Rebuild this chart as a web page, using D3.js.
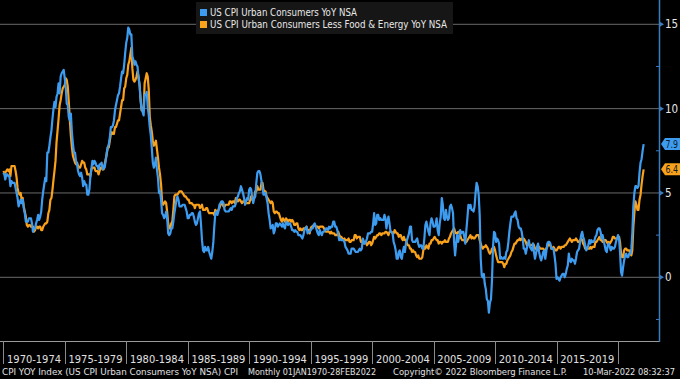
<!DOCTYPE html>
<html><head><meta charset="utf-8">
<script src="https://cdn.jsdelivr.net/npm/d3@7"></script>
<style>
html,body{margin:0;padding:0;background:#000;}
svg{display:block;}
text{font-family:"Liberation Sans Narrow","DejaVu Sans Condensed","Arial Narrow",sans-serif;}
</style></head>
<body>
<svg id="chart" width="680" height="379"></svg>
<script>
// ---- DATA (monthly, Jan 1970 .. Feb 2022) ----
const startYear = 1970;
const seriesNames = ["US CPI Urban Consumers YoY NSA", "US CPI Urban Consumers Less Food & Energy YoY NSA"];
const cpiYoY = [
6.2,6.1,5.8,6.1,6.1,6.0,6.0,5.4,5.7,5.6,5.6,5.6,
5.3,5.0,4.7,4.2,4.4,4.6,4.4,4.6,4.1,3.8,3.3,3.3,
3.3,3.5,3.5,3.5,3.2,2.7,2.9,2.9,3.2,3.4,3.7,3.4,
3.6,3.9,4.6,5.1,5.5,5.9,5.7,7.4,7.4,7.8,8.3,8.7,
9.4,10.0,10.4,10.1,10.7,10.9,11.5,10.9,11.9,12.1,12.2,12.3,
11.8,11.2,10.3,10.2,9.5,9.3,9.7,8.6,7.9,7.4,7.4,6.9,
6.7,6.3,6.1,6.0,6.2,5.9,5.4,5.7,5.5,5.5,4.9,4.9,
5.2,6.0,6.4,6.9,6.7,6.9,6.8,6.6,6.6,6.4,6.7,6.7,
6.8,6.4,6.6,6.5,6.9,7.4,7.7,7.9,8.3,8.9,8.9,9.0,
9.3,9.9,10.2,10.5,10.8,10.9,11.3,11.8,12.2,12.1,12.6,13.3,
13.9,14.2,14.8,14.7,14.4,14.4,13.1,12.9,12.6,12.8,12.6,12.5,
11.8,11.4,10.5,10.0,9.8,9.6,10.8,10.8,11.0,10.1,9.6,8.9,
8.4,7.6,6.8,6.5,6.7,7.1,6.4,5.9,5.0,5.1,4.6,3.8,
3.7,3.5,3.6,3.9,3.5,2.6,2.5,2.6,2.9,2.9,3.3,3.8,
4.2,4.6,4.8,4.6,4.2,4.2,4.2,4.3,4.3,4.3,4.1,3.9,
3.5,3.5,3.7,3.7,3.8,3.8,3.6,3.3,3.1,3.2,3.5,3.8,
3.9,3.1,2.2,1.6,1.5,1.8,1.6,1.6,1.8,1.5,1.3,1.1,
1.5,2.1,3.0,3.8,3.9,3.7,3.9,4.3,4.4,4.5,4.5,4.4,
4.0,3.9,3.9,3.9,3.9,4.0,4.1,4.0,4.2,4.2,4.2,4.4,
4.7,4.8,5.0,5.1,5.4,5.2,5.0,4.7,4.3,4.5,4.7,4.6,
5.2,5.3,5.2,4.7,4.4,4.7,4.8,5.6,6.2,6.3,6.3,6.1,
5.7,5.3,4.9,4.9,5.0,4.7,4.4,3.8,3.4,2.9,3.0,3.1,
2.6,2.8,3.2,3.2,3.0,3.1,3.2,3.1,3.0,3.2,3.0,2.9,
3.3,3.2,3.1,3.2,3.2,3.0,2.8,2.8,2.7,2.8,2.7,2.7,
2.5,2.5,2.5,2.4,2.3,2.5,2.8,2.9,3.0,2.6,2.7,2.7,
2.8,2.9,2.9,3.1,3.2,3.0,2.8,2.6,2.5,2.8,2.6,2.5,
2.7,2.7,2.8,2.9,2.9,2.8,3.0,2.9,3.0,3.0,3.3,3.3,
3.0,3.0,2.8,2.5,2.2,2.3,2.2,2.2,2.2,2.1,1.8,1.7,
1.6,1.4,1.4,1.4,1.7,1.7,1.7,1.6,1.5,1.5,1.5,1.6,
1.7,1.6,1.7,2.3,2.1,2.0,2.1,2.3,2.6,2.6,2.6,2.7,
2.7,3.2,3.8,3.1,3.2,3.7,3.7,3.4,3.5,3.4,3.4,3.4,
3.7,3.5,2.9,3.3,3.6,3.2,2.7,2.7,2.6,2.1,1.9,1.6,
1.1,1.1,1.5,1.6,1.2,1.1,1.5,1.8,1.5,2.0,2.2,2.4,
2.6,3.0,3.0,2.2,2.1,2.1,2.1,2.2,2.3,2.0,1.8,1.9,
1.9,1.7,1.7,2.3,3.1,3.3,3.0,2.7,2.5,3.2,3.5,3.3,
3.0,3.0,3.1,3.5,2.8,2.5,3.2,3.6,4.7,4.3,3.5,3.4,
4.0,3.6,3.4,3.5,4.2,4.3,4.1,3.8,2.1,1.3,2.0,2.5,
2.1,2.4,2.8,2.6,2.7,2.7,2.4,2.0,2.8,3.5,4.3,4.1,
4.3,4.0,4.0,3.9,4.2,5.0,5.6,5.4,4.9,3.7,1.1,0.1,
0.0,0.2,-0.4,-0.7,-1.3,-1.4,-2.1,-1.5,-1.3,-0.2,1.8,2.7,
2.6,2.1,2.3,2.2,2.0,1.1,1.2,1.1,1.1,1.2,1.1,1.5,
1.6,2.1,2.7,3.2,3.6,3.6,3.6,3.8,3.9,3.5,3.4,3.0,
2.9,2.9,2.7,2.3,1.7,1.7,1.4,1.7,2.0,2.2,1.8,1.7,
1.6,2.0,1.5,1.1,1.4,1.8,2.0,1.5,1.2,1.0,1.2,1.5,
1.6,1.1,1.5,2.0,2.1,2.1,2.0,1.7,1.7,1.7,1.3,0.8,
-0.1,0.0,-0.1,-0.2,0.0,0.1,0.2,0.2,0.0,0.2,0.5,0.7,
1.4,1.0,0.9,1.1,1.0,1.0,0.8,1.1,1.5,1.6,1.7,2.1,
2.5,2.7,2.4,2.2,1.9,1.6,1.7,1.9,2.2,2.0,2.2,2.1,
2.1,2.2,2.4,2.5,2.8,2.9,2.9,2.7,2.3,2.5,2.2,1.9,
1.6,1.5,1.9,2.0,1.8,1.6,1.8,1.7,1.7,1.8,2.1,2.3,
2.5,2.3,1.5,0.3,0.1,0.6,1.0,1.3,1.4,1.2,1.2,1.4,
1.4,1.7,2.6,4.2,5.0,5.4,5.4,5.3,5.4,6.2,6.8,7.0,
7.5,7.9
];
const coreYoY = [
6.3,6.2,6.2,6.3,6.4,6.3,6.4,6.0,6.6,6.6,6.6,6.6,
6.3,5.9,5.3,5.0,4.9,5.0,4.6,4.7,4.2,3.9,3.6,3.1,
3.0,3.1,3.1,3.0,3.0,3.0,2.7,2.8,3.0,3.0,2.9,3.0,
3.0,2.8,2.8,3.0,3.1,3.2,3.2,3.3,3.8,4.0,4.6,4.7,
5.2,5.8,6.3,6.9,8.0,8.7,9.4,10.2,10.5,10.9,11.2,11.3,
11.4,11.8,11.7,11.3,10.4,9.3,8.4,7.7,7.2,7.0,6.8,6.7,
6.8,6.6,6.5,6.5,6.7,6.9,6.8,6.8,6.5,6.4,6.1,6.1,
6.1,6.0,6.4,6.5,6.5,6.5,6.3,6.3,6.3,6.1,6.3,6.5,
6.5,6.4,6.4,6.7,7.0,7.3,7.7,7.7,8.1,8.5,8.6,8.5,
8.5,8.9,8.9,9.1,9.3,9.3,9.7,10.1,10.5,10.5,11.2,11.3,
11.8,12.0,12.6,12.8,13.2,13.6,12.4,11.7,11.6,11.7,11.9,12.2,
11.9,11.4,10.6,9.9,10.0,9.9,11.5,11.8,12.1,11.9,11.1,9.5,
9.0,8.6,8.1,7.8,7.9,8.1,7.6,7.1,6.5,6.1,5.5,4.5,
4.3,4.4,4.5,4.4,3.9,3.2,2.9,2.9,3.2,3.3,4.0,4.8,
4.9,4.9,4.9,5.0,5.1,5.1,5.1,5.0,4.9,4.8,4.8,4.7,
4.6,4.6,4.4,4.4,4.4,4.3,4.3,4.1,4.3,4.3,4.3,4.3,
4.1,4.2,4.3,4.0,4.0,4.0,4.1,4.1,3.9,3.8,3.8,3.8,
3.8,3.8,3.7,4.0,3.9,3.9,4.0,4.1,4.3,4.4,4.3,4.2,
4.2,4.3,4.3,4.3,4.3,4.5,4.5,4.4,4.5,4.5,4.4,4.7,
4.6,4.5,4.6,4.6,4.5,4.4,4.5,4.5,4.4,4.4,4.4,4.4,
4.4,4.6,4.8,4.6,4.7,4.7,5.1,5.1,5.4,5.2,5.2,5.2,
5.6,5.6,5.2,5.1,5.1,4.8,4.7,4.6,4.5,4.4,4.5,4.4,
3.9,3.8,3.9,3.9,3.8,3.8,3.6,3.4,3.3,3.5,3.4,3.3,
3.5,3.4,3.3,3.4,3.4,3.3,3.4,3.3,3.1,3.1,3.2,3.2,
2.9,2.8,2.9,2.8,2.8,2.9,2.9,2.9,3.0,2.8,2.8,2.6,
2.9,3.0,3.0,3.1,3.1,3.0,3.0,3.0,2.9,3.0,3.0,3.0,
3.0,2.9,2.8,2.7,2.7,2.7,2.7,2.6,2.7,2.6,2.6,2.6,
2.5,2.5,2.5,2.7,2.5,2.4,2.4,2.3,2.2,2.3,2.2,2.2,
2.2,2.3,2.1,2.1,2.2,2.2,2.2,2.5,2.5,2.3,2.4,2.4,
2.4,2.1,2.1,2.2,2.0,2.1,2.1,1.9,2.0,2.1,2.1,1.9,
2.0,2.2,2.4,2.3,2.4,2.5,2.5,2.6,2.6,2.5,2.6,2.6,
2.6,2.7,2.7,2.6,2.5,2.7,2.7,2.7,2.6,2.6,2.8,2.7,
2.6,2.6,2.4,2.5,2.5,2.3,2.2,2.4,2.2,2.2,2.0,1.9,
1.9,1.7,1.7,1.5,1.6,1.5,1.5,1.3,1.2,1.3,1.1,1.1,
1.1,1.2,1.6,1.8,1.7,1.9,1.8,1.7,2.0,2.0,2.2,2.2,
2.3,2.4,2.3,2.2,2.2,2.0,2.1,2.1,2.0,2.1,2.1,2.2,
2.1,2.1,2.1,2.3,2.4,2.6,2.7,2.8,2.9,2.7,2.6,2.6,
2.7,2.7,2.5,2.3,2.2,2.2,2.2,2.1,2.1,2.2,2.3,2.4,
2.5,2.3,2.4,2.3,2.3,2.4,2.5,2.5,2.5,2.2,2.0,1.8,
1.7,1.8,1.8,1.9,1.8,1.7,1.5,1.4,1.5,1.7,1.7,1.8,
1.6,1.3,1.1,0.9,0.9,0.9,0.9,0.9,0.8,0.6,0.8,0.8,
1.0,1.1,1.2,1.3,1.5,1.6,1.8,2.0,2.0,2.1,2.2,2.2,
2.3,2.2,2.3,2.3,2.3,2.2,2.1,1.9,2.0,2.0,1.9,1.9,
1.9,2.0,1.9,1.7,1.7,1.6,1.7,1.8,1.7,1.7,1.7,1.7,
1.6,1.6,1.7,1.8,2.0,1.9,1.9,1.7,1.7,1.8,1.7,1.6,
1.6,1.7,1.8,1.8,1.7,1.8,1.8,1.8,1.9,1.9,2.0,2.1,
2.2,2.3,2.2,2.1,2.2,2.2,2.2,2.3,2.2,2.1,2.1,2.2,
2.3,2.2,2.0,1.9,1.7,1.7,1.7,1.7,1.7,1.8,1.7,1.8,
1.8,1.8,2.1,2.1,2.2,2.3,2.4,2.2,2.2,2.1,2.2,2.2,
2.2,2.1,2.0,2.1,2.0,2.1,2.2,2.4,2.4,2.3,2.3,2.3,
2.3,2.4,2.1,1.4,1.2,1.2,1.6,1.7,1.7,1.6,1.6,1.6,
1.4,1.3,1.6,3.0,3.8,4.5,4.3,4.0,4.0,4.6,4.9,5.5,
6.0,6.4
];
const periodLabels = ["1970-1974","1975-1979","1980-1984","1985-1989","1990-1994","1995-1999","2000-2004","2005-2009","2010-2014","2015-2019"];
const periodStarts = [1970,1975,1980,1985,1990,1995,2000,2005,2010,2015,2020];
const majorTicks = [0,5,10,15];
const minorTicks = [-2.5,2.5,7.5,12.5];
const footerParts = ["CPI YOY Index (US CPI Urban Consumers YoY NSA) CPI", "Monthly 01JAN1970-28FEB2022", "Copyright\u00A9 2022 Bloomberg Finance L.P.", "10-Mar-2022 08:32:37"];

// ---- LAYOUT ----
const W = 680, H = 379;
const plotL = 0, plotR = 659, plotT = 0, plotB = 341;
const colBlue = "#3d9cf0", colOrange = "#f9a11b", axisBlue = "#3b7cc0";

const svg = d3.select("#chart");
svg.append("rect").attr("width", W).attr("height", H).attr("fill", "#000");

const x = d3.scaleTime()
  .domain([new Date(1970,0,1), new Date(2020,0,1)])
  .range([3.3, 618]);
const y = d3.scaleLinear().domain([0,15]).range([277.3, 24.3]);

const dates = cpiYoY.map((_, i) => new Date(startYear, i, 1));

// grid lines
svg.append("g").selectAll("line").data(majorTicks).join("line")
  .attr("x1", plotL).attr("x2", plotR)
  .attr("y1", d => y(d)).attr("y2", d => y(d))
  .attr("stroke", "#6a6a6a").attr("stroke-width", 1);

// clip
svg.append("clipPath").attr("id","clip").append("rect")
  .attr("x", plotL).attr("y", plotT).attr("width", plotR-plotL).attr("height", plotB-plotT);

const line = d3.line().x((d,i) => x(dates[i])).y(d => y(d));
const g = svg.append("g").attr("clip-path","url(#clip)");
g.append("path").datum(coreYoY).attr("d", line)
  .attr("fill","none").attr("stroke", colOrange).attr("stroke-width", 2.2).attr("stroke-linejoin","round");
g.append("path").datum(cpiYoY).attr("d", line)
  .attr("fill","none").attr("stroke", colBlue).attr("stroke-width", 2.2).attr("stroke-linejoin","round");

// bottom axis
svg.append("line").attr("x1", plotL).attr("x2", plotR).attr("y1", plotB+0.5).attr("y2", plotB+0.5)
  .attr("stroke", "#9a9a9a").attr("stroke-width", 1);
svg.append("g").selectAll("line").data(periodStarts).join("line")
  .attr("x1", d => Math.round(x(new Date(d,0,1)))+0.5).attr("x2", d => Math.round(x(new Date(d,0,1)))+0.5)
  .attr("y1", plotB).attr("y2", 364).attr("stroke", "#8a8a8a").attr("stroke-width", 1);
svg.append("g").selectAll("text").data(periodLabels).join("text")
  .attr("x", (d,i) => (x(new Date(periodStarts[i],0,1)) + x(new Date(periodStarts[i+1],0,1)))/2)
  .attr("y", 363).attr("text-anchor","middle").attr("fill","#e0e0e0")
  .attr("font-size", 11).text(d => d);

// right axis
svg.append("line").attr("x1", plotR+0.5).attr("x2", plotR+0.5).attr("y1", 0).attr("y2", plotB+1)
  .attr("stroke", axisBlue).attr("stroke-width", 1.5);
svg.append("g").selectAll("path").data(majorTicks).join("path")
  .attr("d", d => `M${plotR},${y(d)-3} L${plotR+5},${y(d)} L${plotR},${y(d)+3} Z`)
  .attr("fill", axisBlue);
svg.append("g").selectAll("line").data(minorTicks).join("line")
  .attr("x1", plotR-3).attr("x2", plotR).attr("y1", d => y(d)).attr("y2", d => y(d))
  .attr("stroke", axisBlue).attr("stroke-width", 1);
svg.append("g").selectAll("text").data(majorTicks).join("text")
  .attr("x", plotR+6).attr("y", d => y(d)+4).attr("fill","#e6e6e6").attr("font-size", 11.5)
  .text(d => d);

// last value tags
const lastVals = [
  {v: cpiYoY[cpiYoY.length-1], c: colBlue},
  {v: coreYoY[coreYoY.length-1], c: colOrange}
];
const tags = svg.append("g").selectAll("g").data(lastVals).join("g");
tags.append("path")
  .attr("d", d => { const yy = y(d.v); return `M${plotR+2},${yy} L${plotR+6},${yy-6} L680,${yy-6} L680,${yy+6} L${plotR+6},${yy+6} Z`; })
  .attr("fill", d => d.c);
tags.append("text").attr("x", plotR+6.5).attr("y", d => y(d.v)+4)
  .attr("fill", "#0d1b2a").attr("font-size", 11).attr("textLength", 12.5).attr("lengthAdjust","spacingAndGlyphs")
  .text(d => d.v.toFixed(1));

// legend
const lg = svg.append("g");
lg.append("rect").attr("x", 196).attr("y", 2).attr("width", 257).attr("height", 32).attr("fill", "#161616");
const lgColors = [colBlue, colOrange];
const lgWidths = [147, 237];
seriesNames.forEach((n,i) => {
  lg.append("rect").attr("x", 200).attr("y", 9 + i*12).attr("width", 7).attr("height", 7).attr("fill", lgColors[i]);
  lg.append("text").attr("x", 210).attr("y", 16 + i*12).attr("fill", "#e8e8e8").attr("font-size", 10.5)
    .attr("textLength", lgWidths[i]).attr("lengthAdjust","spacingAndGlyphs").text(n);
});

// footer
const fx = [[2, 236, "start"], [248, 128, "start"], [393, 174, "start"], [675, 92, "end"]];
footerParts.forEach((t,i) => {
  svg.append("text").attr("x", fx[i][0]).attr("y", 375).attr("fill", "#e0e0e0").attr("text-anchor", fx[i][2])
    .attr("font-size", 9.5).attr("textLength", fx[i][1]).attr("lengthAdjust","spacingAndGlyphs").text(t);
});
</script>
</body></html>
